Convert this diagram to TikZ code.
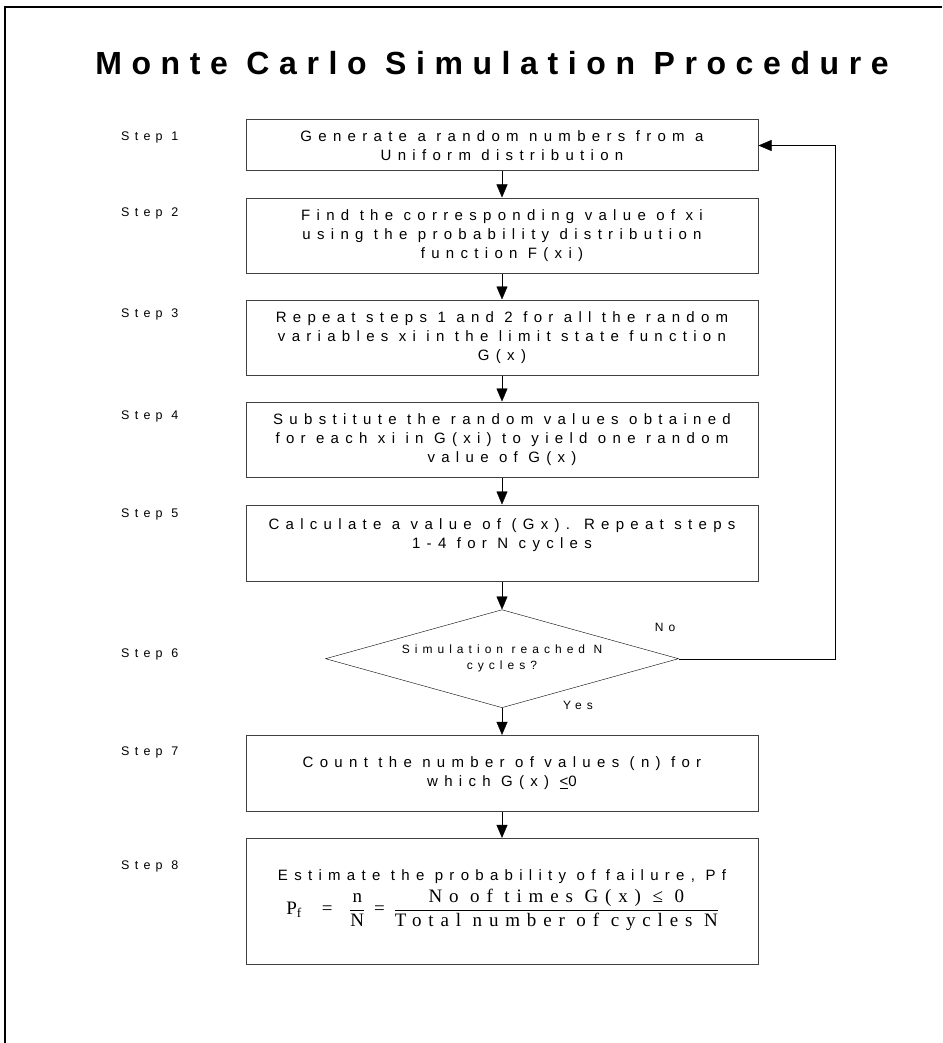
\documentclass[tikz,border=0pt]{standalone}
\usepackage{fontspec}
\setmainfont{Liberation Sans}
\newfontfamily\boxfont[LetterSpace=42]{Liberation Sans}
\newfontfamily\titlefont[LetterSpace=30]{Liberation Sans}
\newfontfamily\formfont[LetterSpace=36]{Liberation Serif}
\usetikzlibrary{arrows.meta,positioning,shapes.geometric}

\begin{document}
\begin{tikzpicture}[x=1pt,y=-1pt,>={Triangle[length=13pt,width=11pt]},thin,
  step box/.style={rectangle,draw=black!75,line width=1pt,minimum width=512pt,align=center,inner sep=2pt,font=\boxfont\fontsize{15}{19}\selectfont},
  step label/.style={anchor=west,inner sep=0pt,font=\boxfont\fontsize{12.5}{14}\selectfont},
  decision/.style={diamond,draw,aspect=3.6,minimum width=353pt,minimum height=98pt,inner sep=0pt,align=center,font=\boxfont\fontsize{12}{16}\selectfont},
  answer/.style={inner sep=0pt,font=\boxfont\fontsize{12}{14}\selectfont}]

  \useasboundingbox (0,0) rectangle (942,1043);
  \draw[line width=1.5pt] (942,7) -- (5,7) -- (5,1043);

  \node[font=\titlefont\bfseries\fontsize{32}{38}\selectfont] (title) at (492,63) {Monte Carlo Simulation Procedure};

  % the eight steps
  \node[step box,minimum height=51pt] (b1) at (502,145.5) {Generate a random numbers from a\\Uniform distribution};
  \node[step box,minimum height=75pt] (b2) [below=26pt of b1] {Find the corresponding value of xi\\using the probability distribution\\function F(xi)};
  \node[step box,minimum height=75pt] (b3) [below=26pt of b2] {Repeat steps 1 and 2 for all the random\\variables xi in the limit state function\\G(x)};
  \node[step box,minimum height=75pt] (b4) [below=26pt of b3] {Substitute the random values obtained\\for each xi in G(xi) to yield one random\\value of G(x)};
  \node[step box,minimum height=76pt] (b5) [below=27pt of b4] {Calculate a value of (Gx). Repeat steps\\1-4 for N cycles\\\mbox{}};
  \node[decision] (d6) [below=28pt of b5] {Simulation reached N\\cycles?};
  \node[step box,minimum height=76pt] (b7) [below=27pt of d6] {Count the number of values (n) for\\which G(x) \underline{<}0};
  \node[step box,minimum height=126pt] (b8) [below=26pt of b7] {Estimate the probability of failure, Pf\\[2pt]
    {\formfont\fontsize{19}{23}\selectfont P\textsubscript{f}\hspace{20pt}=\hspace{18pt}\begin{tabular}{@{}c@{}}n\\\hline N\end{tabular}\hspace{10pt}=\hspace{10pt}\begin{tabular}{@{}c@{}}No of times G(x) ≤ 0\\\hline Total number of cycles N\end{tabular}}};

  \node[step label] (s1) at (121,137) {Step 1};
  \node[step label] (s2) at (121,213) {Step 2};
  \node[step label] (s3) at (121,314) {Step 3};
  \node[step label] (s4) at (121,416) {Step 4};
  \node[step label] (s5) at (121,514) {Step 5};
  \node[step label] (s6) at (121,654) {Step 6};
  \node[step label] (s7) at (121,752) {Step 7};
  \node[step label] (s8) at (121,866) {Step 8};

  \node[answer] (no) at (665,627) {No};
  \node[answer] (yes) at (578,705) {Yes};

  \path[->]
    (b1.south) edge (b2.north)
    (b2.south) edge (b3.north)
    (b3.south) edge (b4.north)
    (b4.south) edge (b5.north)
    (b5.south) edge (d6.north)
    (d6.south) edge (b7.north)
    (b7.south) edge (b8.north);

  \coordinate (loop top) at ([xshift=77pt]b1.east);
  \draw[->] (d6.east) -| (loop top) -- (b1.east);
\end{tikzpicture}
\end{document}
